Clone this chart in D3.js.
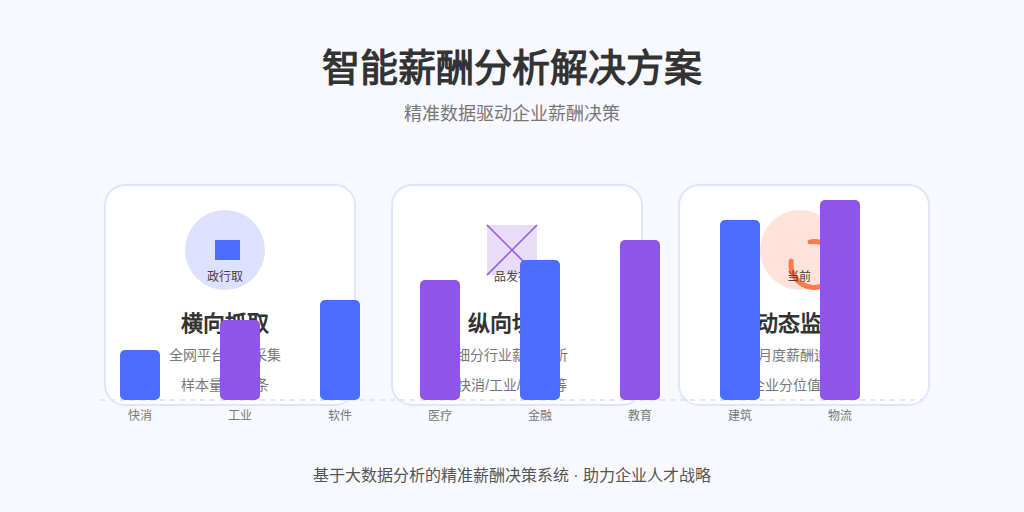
<!DOCTYPE html>
<html lang="zh-CN">
<head>
<meta charset="utf-8">
<script src="https://cdn.jsdelivr.net/npm/d3@7"></script>
<style>
  html, body { margin: 0; padding: 0; background: #f8f9ff; }
  svg { display: block; font-family: Arial, sans-serif; }
</style>
</head>
<body>
<div id="chart"></div>
<script>
// 1: DATA
const categories = ["快消", "工业", "软件", "医疗", "金融", "教育", "建筑", "物流"];
const values = [50, 80, 100, 120, 140, 160, 180, 200];
const barGroups = ["a", "b", "a", "b", "a", "b", "a", "b"];
const cardTitles = ["横向抓取", "纵向切分", "动态监测"];
const cardLine1 = ["全网平台数据采集", "细分行业薪酬分析", "月度薪酬追踪"];
const cardLine2 = ["样本量5000条", "快消/工业/金融/等", "企业分位值对比"];
const iconLabels = ["政行取", "品发布", "当前"];

const width = 1024;
const height = 512;
const baseY = 400;

const svg = d3.select("#chart")
    .append("svg")
    .attr("width", width)
    .attr("height", height);

svg.append("rect")
    .attr("width", width)
    .attr("height", height)
    .attr("fill", "#f8f9ff");

// 2: HEADINGS
svg.append("text")
    .attr("x", 512).attr("y", 81)
    .attr("text-anchor", "middle")
    .attr("font-size", 38)
    .attr("font-weight", 700)
    .attr("fill", "#333333")
    .text("智能薪酬分析解决方案");

svg.append("text")
    .attr("x", 512).attr("y", 120)
    .attr("text-anchor", "middle")
    .attr("font-size", 18)
    .attr("fill", "#777777")
    .text("精准数据驱动企业薪酬决策");

svg.append("text")
    .attr("x", 512).attr("y", 481)
    .attr("text-anchor", "middle")
    .attr("font-size", 16)
    .attr("fill", "#555555")
    .text("基于大数据分析的精准薪酬决策系统 · 助力企业人才战略");

// 3: CARDS
const cardX = [105, 392, 679];
const centerX = [225, 512, 800];

cardTitles.forEach((title, i) => {
    svg.append("rect")
        .attr("x", cardX[i]).attr("y", 185)
        .attr("width", 250).attr("height", 220)
        .attr("rx", 20)
        .attr("fill", "#ffffff")
        .attr("stroke", "#e0e4ff")
        .attr("stroke-width", 2);

    svg.append("text")
        .attr("x", centerX[i]).attr("y", 331)
        .attr("text-anchor", "middle")
        .attr("font-size", 22)
        .attr("font-weight", 700)
        .attr("fill", "#333333")
        .text(title);

    svg.append("text")
        .attr("x", centerX[i]).attr("y", 360)
        .attr("text-anchor", "middle")
        .attr("font-size", 14)
        .attr("fill", "#777777")
        .text(cardLine1[i]);

    svg.append("text")
        .attr("x", centerX[i]).attr("y", 390)
        .attr("text-anchor", "middle")
        .attr("font-size", 14)
        .attr("fill", "#777777")
        .text(cardLine2[i]);
});

// 4: ICONS
svg.append("circle")
    .attr("cx", 225).attr("cy", 250).attr("r", 40)
    .attr("fill", "#dde1ff");
svg.append("rect")
    .attr("x", 215).attr("y", 240)
    .attr("width", 25).attr("height", 20)
    .attr("fill", "#4a6cff");

svg.append("rect")
    .attr("x", 487).attr("y", 225)
    .attr("width", 50).attr("height", 50)
    .attr("fill", "#e8dcf9");
svg.append("path")
    .attr("d", "M487,225L537,275M537,225L487,275")
    .attr("fill", "none")
    .attr("stroke", "#8f54e8")
    .attr("stroke-width", 1.5);

svg.append("circle")
    .attr("cx", 800).attr("cy", 250).attr("r", 40)
    .attr("fill", "#ffe3da");
const ring = d3.path();
ring.arc(814, 264.5, 23, -1.745, 3.29);
svg.append("path")
    .attr("d", ring.toString())
    .attr("fill", "none")
    .attr("stroke", "#ff7a4a")
    .attr("stroke-width", 5)
    .attr("stroke-linecap", "round");

iconLabels.forEach((label, i) => {
    svg.append("text")
        .attr("x", centerX[i] - (i === 2 ? 1 : 0)).attr("y", 281)
        .attr("text-anchor", "middle")
        .attr("font-size", 12)
        .attr("fill", "#444444")
        .text(label);
});

// 5: BARS
const x = d3.scaleBand()
    .domain(categories)
    .range([90, 890])
    .paddingInner(0.6)
    .paddingOuter(0.3);

const y = d3.scaleLinear()
    .domain([0, 200])
    .range([baseY, 200]);

const color = d3.scaleOrdinal()
    .domain(["a", "b"])
    .range(["#4a6cff", "#8f54e8"]);

const xAxis = svg.append("g")
    .attr("transform", `translate(0,${baseY})`)
    .call(d3.axisBottom(x).tickSize(0).tickPadding(11));

xAxis.select(".domain").remove();
xAxis.selectAll("text")
    .attr("font-family", "Arial, sans-serif")
    .attr("font-size", 12)
    .attr("fill", "#777777");

svg.append("line")
    .attr("x1", 100).attr("x2", 924)
    .attr("y1", baseY).attr("y2", baseY)
    .attr("stroke", "#e0e4ff")
    .attr("stroke-width", 2)
    .attr("stroke-dasharray", "5,5");

svg.selectAll(".bar")
    .data(categories)
    .join("rect")
    .attr("class", "bar")
    .attr("x", d => x(d))
    .attr("y", (d, i) => y(values[i]))
    .attr("width", x.bandwidth())
    .attr("height", (d, i) => baseY - y(values[i]))
    .attr("rx", 5)
    .attr("fill", (d, i) => color(barGroups[i]));
</script>
</body>
</html>
